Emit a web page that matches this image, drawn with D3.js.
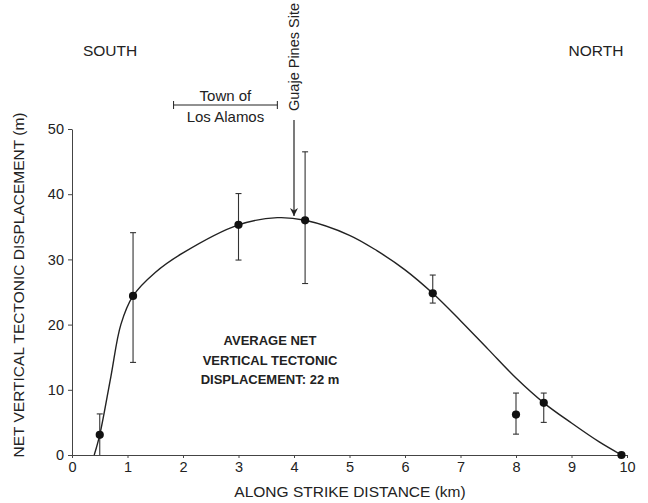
<!DOCTYPE html>
<html>
<head>
<meta charset="utf-8">
<script src="https://cdn.jsdelivr.net/npm/d3@7"></script>
<style>
  body { margin: 0; background: #fff; }
  text { font-family: "Liberation Sans", Arial, sans-serif; fill: #222; }
</style>
</head>
<body>
<script>
// measured points: distance (km), displacement (m), error range
const distance = [0.5, 1.1, 3.0, 4.2, 6.5, 8.0, 8.5, 9.9]
const displacement = [3.1, 24.4, 35.3, 36.0, 24.8, 6.2, 8.0, 0]
const errLow = [0, 14.2, 29.9, 26.3, 23.3, 3.2, 5.0, null]
const errHigh = [6.3, 34.1, 40.1, 46.5, 27.6, 9.5, 9.5, null]

// hand-drawn fit curve
const curveX = [0.4, 0.5, 0.7, 0.88, 1.1, 1.5, 2.0, 3.0, 3.7, 4.2, 5.0, 5.5, 6.0, 6.5, 7.0, 7.5, 8.0, 8.5, 9.0, 9.5, 9.9]
const curveY = [0, 3.1, 12, 20, 24.4, 28, 31, 35.3, 36.4, 36.0, 33.7, 31.3, 28.4, 24.8, 20.6, 16.2, 11.8, 8.0, 4.9, 2.0, 0]

const xTicks = [0, 1, 2, 3, 4, 5, 6, 7, 8, 9, 10]
const yTicks = [0, 10, 20, 30, 40, 50]

const width = 648, height = 503
const ink = '#222'

const svg = d3.select('body').append('svg')
    .attr('width', width)
    .attr('height', height)

const xScale = d3.scaleLinear().domain([0, 10]).range([72, 627])
const yScale = d3.scaleLinear().domain([0, 50]).range([455, 129])

// axes
const xAxis = svg.append('g')
    .attr('transform', 'translate(0,' + yScale(0) + ')')
    .call(d3.axisBottom(xScale).tickValues(xTicks).tickSize(3).tickSizeOuter(0).tickPadding(4))
xAxis.selectAll('text').style('font-size', '14.5px')

const yAxis = svg.append('g')
    .attr('transform', 'translate(' + xScale(0) + ',0)')
    .call(d3.axisLeft(yScale).tickValues(yTicks).tickSize(4).tickSizeOuter(0).tickPadding(4))
yAxis.selectAll('text').style('font-size', '14.5px')

svg.selectAll('.domain, .tick line').attr('stroke', '#444')

// axis titles
svg.append('text')
    .attr('text-anchor', 'middle')
    .attr('transform', 'translate(24,' + 285 + ')rotate(-90)')
    .style('font-size', '15.5px')
    .text('NET VERTICAL TECTONIC DISPLACEMENT (m)')

svg.append('text')
    .attr('text-anchor', 'middle')
    .attr('x', 350)
    .attr('y', 497)
    .style('font-size', '15.5px')
    .text('ALONG STRIKE DISTANCE (km)')

// fit curve
const curveData = curveX.map((x, i) => ({x: x, y: curveY[i]}))
const line = d3.line()
    .x(d => xScale(d.x))
    .y(d => yScale(d.y))
    .curve(d3.curveCatmullRom.alpha(0.5))

svg.append('path')
    .datum(curveData)
    .attr('d', line)
    .attr('fill', 'none')
    .attr('stroke', ink)
    .attr('stroke-width', 1.4)

// error bars
const points = distance.map((d, i) => ({x: d, y: displacement[i], lo: errLow[i], hi: errHigh[i]}))
const bars = points.filter(d => d.lo !== null)

svg.selectAll('.err').data(bars).enter()
    .append('line')
    .attr('x1', d => xScale(d.x)).attr('x2', d => xScale(d.x))
    .attr('y1', d => yScale(d.lo)).attr('y2', d => yScale(d.hi))
    .attr('stroke', '#333').attr('stroke-width', 1.1)

const caps = []
bars.forEach(d => { caps.push({x: d.x, y: d.hi}); if (d.lo > 0) caps.push({x: d.x, y: d.lo}) })
svg.selectAll('.cap').data(caps).enter()
    .append('line')
    .attr('x1', d => xScale(d.x) - 3).attr('x2', d => xScale(d.x) + 3)
    .attr('y1', d => yScale(d.y)).attr('y2', d => yScale(d.y))
    .attr('stroke', '#333').attr('stroke-width', 1.1)

svg.selectAll('.dot').data(points).enter()
    .append('circle')
    .attr('cx', d => xScale(d.x))
    .attr('cy', d => yScale(d.y))
    .attr('r', 4.1)
    .attr('fill', '#111')

// direction labels
svg.append('text').attr('x', 110).attr('y', 56).attr('text-anchor', 'middle')
    .style('font-size', '15.5px').text('SOUTH')
svg.append('text').attr('x', 596).attr('y', 56).attr('text-anchor', 'middle')
    .style('font-size', '15.5px').text('NORTH')

// Town of Los Alamos bracket
const townStart = 1.83, townEnd = 3.7
const bY = 105
svg.append('line')
    .attr('x1', xScale(townStart)).attr('x2', xScale(townEnd))
    .attr('y1', bY).attr('y2', bY)
    .attr('stroke', ink).attr('stroke-width', 1)
;[townStart, townEnd].forEach(t => {
    svg.append('line')
        .attr('x1', xScale(t)).attr('x2', xScale(t))
        .attr('y1', bY - 4).attr('y2', bY + 4)
        .attr('stroke', ink).attr('stroke-width', 1)
})
svg.append('text').attr('x', xScale((townStart + townEnd) / 2)).attr('y', 101)
    .attr('text-anchor', 'middle').style('font-size', '15px').text('Town of')
svg.append('text').attr('x', xScale((townStart + townEnd) / 2)).attr('y', 122)
    .attr('text-anchor', 'middle').style('font-size', '15px').text('Los Alamos')

// Guaje Pines Site arrow
const siteX = 4.0
svg.append('defs').append('marker')
    .attr('id', 'arrow')
    .attr('viewBox', '0 0 10 10')
    .attr('refX', 10).attr('refY', 5)
    .attr('markerWidth', 8).attr('markerHeight', 8)
    .attr('markerUnits', 'userSpaceOnUse')
    .attr('orient', 'auto')
    .append('path')
    .attr('d', 'M0,0 L10,5 L0,10 L3,5 Z')
    .attr('fill', ink)

svg.append('line')
    .attr('x1', xScale(siteX)).attr('x2', xScale(siteX))
    .attr('y1', 120).attr('y2', 216)
    .attr('stroke', ink).attr('stroke-width', 1.2)
    .attr('marker-end', 'url(#arrow)')

svg.append('text')
    .attr('text-anchor', 'middle')
    .attr('transform', 'translate(' + (xScale(siteX) + 5) + ',57)rotate(-90)')
    .style('font-size', '14.5px')
    .text('Guaje Pines Site')

// summary text
const summary = ['AVERAGE NET', 'VERTICAL TECTONIC', 'DISPLACEMENT: 22 m']
svg.selectAll('.summary').data(summary).enter()
    .append('text')
    .attr('x', 270)
    .attr('y', (d, i) => 345 + i * 19.5)
    .attr('text-anchor', 'middle')
    .style('font-size', '13px')
    .style('font-weight', 'bold')
    .text(d => d)
</script>
</body>
</html>
